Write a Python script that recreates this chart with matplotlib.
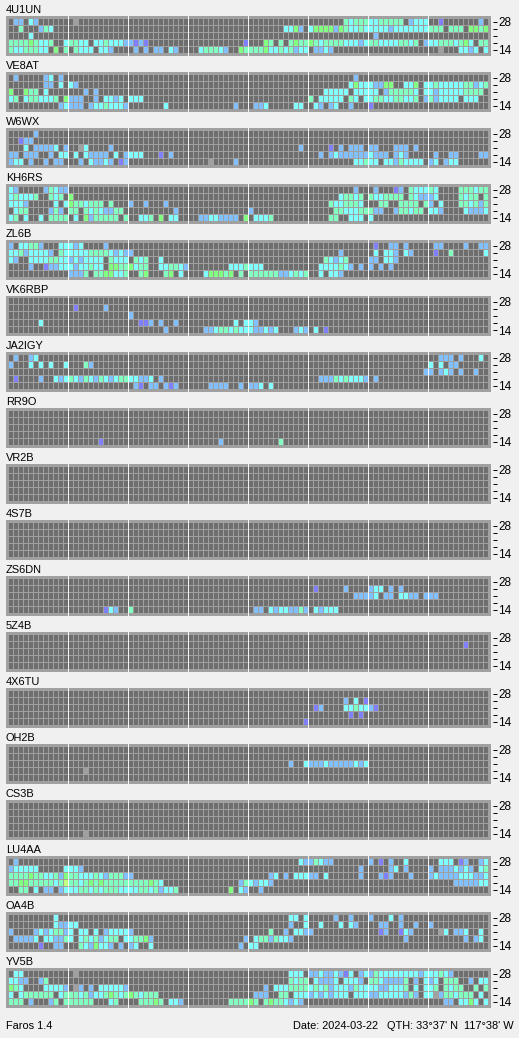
import matplotlib
matplotlib.use("Agg")
import matplotlib.pyplot as plt
import numpy as np
from matplotlib.colors import ListedColormap

plt.rcParams['font.family'] = ['Liberation Sans', 'DejaVu Sans']

STATIONS = ["4U1UN", "VE8AT", "W6WX", "KH6RS", "ZL6B", "VK6RBP", "JA2IGY", "RR9O", "VR2B",
            "4S7B", "ZS6DN", "5Z4B", "4X6TU", "OH2B", "CS3B", "LU4AA", "OA4B", "YV5B"]
BAND_LABELS = ["28", "", "", "", "14"]
FOOTER_LEFT = "Faros 1.4"
FOOTER_DATE = "Date: 2024-03-22"
FOOTER_QTH = "QTH: 33°37' N  117°38' W"

# '.' no signal, '#' gray, v violet, b blue, c cyan, a aquamarine, g green, y yellow-green
# each row: 8 blocks of 12 slots, '_' = an empty block; rows top to bottom are 28 ... 14
EMPTY = ["_ _ _ _ _ _ _ _"] * 5
D_4U1UN = [
    ".bb.cb...... .#.......... _ _ _ .......acaaa ccaaaaa.bccc ..v.......b.",
    "..a...bac... _ _ _ .......ccgb. cggggbgaccac ccccbccccccc aaa.aaa.ggag",
    "....c....... _ _ _ _ _ .b.......... _",
    "aaaagacca..c aacc.ccacccb bvbv........ ...........v ...ga.a.agaa gacaaaacccbc aaccccaaca.b ccaaacagc.aa",
    "accaaacc.g.a .accc.ccb... .b.b.bb.cb.. ..caaacb..ga aaagccacabcc .bbcb....... _ ..#...ccbc.c",
]
D_VE8AT = [
    ".b.....bc.b. _ _ _ _ .........b.. _ _",
    ".......bb.c. cb.......... _ _ _ ........cgcc cbbgg..ccg.c cacccccaabca",
    "g..gaa.c.... ...b.b...... _ _ _ ...ccccc.ccc cc.baaaaac.c cbcccccaaaa.",
    "ca.caaccca.g bbb..b.ccbc. ccc......... _ _ a.ccccc.ac.c caaccaacca.b abcccc.ccc..",
    "..........bc bbb.bccacccb .......c.... .........b.. .bbc.....cc. .cb.bc..b... v........... _",
]
D_W6WX = [
    ".....b...... _ _ _ _ _ _ _",
    "..vbb....... _ _ _ _ _ _ _",
    "...c.bbbbc.b ..#c....b... _ _ ..........b. ....v.b.bbb. bb...bbb.b.. _",
    "bb.bbb..b.cc .c.cbbbb.c.b ccc...v.b... _ _ ..b.bcbbbbbb cbbb.bcb.... .b..bb....bb",
    "bcc.b..b.bb. ..b.cbbcb.vb _ ....#....b.. _ .........cca cc.ccbacccc. bc.bcc......",
]
D_KH6RS = [
    "cb.....bacbb _ _ _ _ .........b.. .b...vb.accc ac....aaacaa",
    "caccca..aca. g........... _ _ _ ......caaca. accaaaa.acbb bc....acaa.a",
    "cccb.....c.c gaacaaa.a... b..b...b.... _ _ ....accaaac. ..aa..aaaa.a b.c...aacaba",
    ".caa....bab. aa.acacbbaa. .........b.. _ b........... .....aacccaa abb..baacaa. ccb....cbbbc",
    "ca.c..c.aaaa .c.gbaaaaa.a ..cca.g.cc.. ..bbccbbbb.g .ccca....... ....aa..ccc. c........... _",
]
D_ZL6B = [
    "b.ccaab...cc cbc....b.... _ _ _ _ .v..bb.b.... .bb....b..bb",
    "ccabccccb.ac ccccaaaacbcb b........... _ _ ......b..... .c.ccb.cb... .v..a......c",
    "cb..ccccaacc bcbcccc.accc .aca..c..... _ _ ...acbca.... bb.ccb...... _",
    "....b..vbbcc cbccacc.ggaa gcaa..ccaacb ........ccca ccc......... ..ccccacb.b. b.b.b....... _",
    "_ bbba.aaggcca ..ag...ag.c. ...cgggag.a. aaaaaabbcaca ..c.ccb..... _ _",
]
D_VK6RBP = [
    "_ _ _ _ _ _ _ _",
    "_ .v.....b.... _ _ _ _ _ _",
    "_ _ b........... _ _ _ _ _",
    "......c..... _ ..vvb.b..b.. .........c.c cb.......... _ _ _",
    "_ _ .......b.... ...bbcaacacc cbbcbc...bcb .c.v........ _ _",
]
D_JA2IGY = [
    ".b..bc...... _ _ _ _ _ _ ..bbb.b...c.",
    "b...c.c.c..c ...ab....... _ _ _ _ _ c.c.bb......",
    "_ _ _ _ _ _ ...........b b.bcb.b..b..",
    ".v....b..cbc acbacbacbcaa ccbbc.b..... _ _ ..bbbacacccb .b.......... _",
    "_ _ .bv.bb.bvb.. ....bbbb..b. bbc.c....... _ _ _",
]
D_RR9O = [
    "_ _ _ _ _ _ _ _",
    "_ _ _ _ _ _ _ _",
    "_ _ _ _ _ _ _ _",
    "_ _ _ _ _ _ _ _",
    "_ ......v..... _ ......b..... ......a..... _ _ _",
]
D_ZS6DN = [
    "_ _ _ _ _ _ _ _",
    "_ _ _ _ _ .v.....b.... bcc.b.b..... _",
    "_ _ _ _ _ .........bbb bc.bb.ccbb.b bb..........",
    "_ _ _ _ _ _ _ _",
    "_ .......vcb.. a........... _ .bb.cbccbbab .cbccc...... _ _",
]
D_5Z4B = [
    "_ _ _ _ _ _ _ _",
    "_ _ _ _ _ _ _ .......v....",
    "_ _ _ _ _ _ _ _",
    "_ _ _ _ _ _ _ _",
    "_ _ _ _ _ _ _ _",
]
D_4X6TU = [
    "_ _ _ _ _ _ _ _",
    "_ _ _ _ _ .......b.c.v _ _",
    "_ _ _ _ _ .vb....ccacc bv.......... _",
    "_ _ _ _ _ ........v.v. _ _",
    "_ _ _ _ ...........v _ _ _",
]
D_OH2B = [
    "_ _ _ _ _ _ _ _",
    "_ _ _ _ _ _ _ _",
    "_ _ _ _ ........b..c bbbcbbbbbcbc _ _",
    "_ ...#........ _ _ _ _ _ _",
    "_ _ _ _ _ _ _ _",
]
D_CS3B = [
    "_ _ _ _ _ _ _ _",
    "_ _ _ _ _ _ _ _",
    "_ _ _ _ _ _ _ _",
    "_ _ _ _ _ _ _ _",
    "_ ...#........ _ _ _ _ _ _",
]
D_LU4AA = [
    ".b.......... _ _ _ ..........cb bacbb....... b.v.b..c.... ..ccc.vb..bc",
    "bccccc.....c ccb......... _ _ _ ..........b. ....bc.b.... b.bbbcbcb.ca",
    "aaaagaaccabg aacccacbaaab b........... _ ....bc.b.ccc bb.c......b. ..bvb...b... bcbbbbcccbbc",
    "aaggaaaaacay aacagagaaaaa aaaagac..... ..........ba cbccb....... _ _ .....bbbbbcc",
    "..aa.c.bb.bc ccaacacaaacc ccaacabcca.. ........g.cb ..b......... _ _ _",
]
D_OA4B = [
    ".........c.. _ _ _ ........cc.c .....b..b... b...c.b..... _",
    ".........cbb cc.......... _ _ ........b..c ..c...c.cb.. ..bb..b..b.. b...........",
    "b....bcbcaab c.cc.c.bcccc b........... _ ....a..b.ccb b........... ..vb..vcb... ..#c.bbc..c.",
    ".bbbbc.ccbba c.cacabcaa.c caagb....... ...........b .caabaccb... _ .......b.... .......b.bc.",
    "......v..bb. ..acbgccb.b. bc..c....... ..........b. cc.......... _ _ _",
]
D_YV5B = [
    ".cc......... .#.......... _ _ ........ccc. bbcbbcbvc.bc baccccccccbc ccacb.......",
    "ccbb..ba.... _ _ _ ........acaa .cbbbc.cccb. aacbbbba.b.c bc.aaa..b.cc",
    "gac....ccccb .#b.b.cccccb _ _ ...b.cccaaaa cacabcccbacc ccbbccca.c.c ca.acaa..a.a",
    "c.caaaaaa.ca aacabccagaca gacaaa...... _ .bbb..aa.ccc bcbcbccc.ccc bbcccccbab.c c#baacaaa.c.",
    "aaa.b...ba.a aaaaa...ca.. ..aaaga.ccb. ........aaaa ga.agaacbcb. _ _ ...bb.ccgc.c",
]
PANELS = [D_4U1UN, D_VE8AT, D_W6WX, D_KH6RS, D_ZL6B, D_VK6RBP, D_JA2IGY, D_RR9O, EMPTY,
          EMPTY, D_ZS6DN, D_5Z4B, D_4X6TU, D_OH2B, D_CS3B, D_LU4AA, D_OA4B, D_YV5B]

CODES = ".#vbcagy"
PALETTE = ['#6e6e6e', '#a0a0a0', '#8080ff', '#80c0ff', '#80ffff', '#80ffc0', '#80ff80', '#c0ff80',
           '#f4f4f4']
WHITE_IDX = 8
BG = '#f0f0f0'
W, H = 519, 1038
FS = 7.9
CMAP = ListedColormap(PALETTE)


def expand(row):
    out = ""
    tokens = row.split()
    if len(tokens) != 8:
        print("bad row", row)
    for t in tokens:
        if t != "_" and len(t) != 12:
            print("bad block", t)
        out += "." * 12 if t == "_" else t
    return out


fig = plt.figure(figsize=(W / 100, H / 100), dpi=100, facecolor=BG)
for k, (name, rows) in enumerate(zip(STATIONS, PANELS)):
    top = 16 + 56 * k
    ax = fig.add_axes([6 / W, 1 - (top + 40) / H, 485 / W, 40 / H])
    canvas = np.full((40, 485), CODES.index('#'))
    for r, row in enumerate(rows):
        for c, ch in enumerate(expand(row)):
            canvas[3 + 7 * r:9 + 7 * r, 3 + 5 * c:7 + 5 * c] = CODES.index(ch)
    for h in range(12, 96, 12):
        canvas[:, 2 + 5 * h] = WHITE_IDX
    ax.imshow(canvas, cmap=CMAP, vmin=-0.5, vmax=len(PALETTE) - 0.5,
              extent=(-0.4, 96.6, 38 / 7, -2 / 7), interpolation='none', aspect='auto',
              origin='upper')
    for sp in ax.spines.values():
        sp.set_visible(False)
    ax.spines['right'].set_position(('outward', 1.44))
    ax.set_xticks([])
    ax.yaxis.tick_right()
    ax.set_yticks([r + 4 / 7 for r in range(5)], BAND_LABELS)
    ax.tick_params(axis='y', length=2.88, width=0.72, pad=1.0, labelsize=8.5, color='black')
    ax.set_title(name, loc='left', pad=2.2, fontsize=FS, color='black')

fig.text(6 / W, 1 - 1029 / H, FOOTER_LEFT, fontsize=FS, va='baseline')
fig.text(293 / W, 1 - 1029 / H, FOOTER_DATE, fontsize=FS, va='baseline')
fig.text(387 / W, 1 - 1029 / H, FOOTER_QTH, fontsize=FS, va='baseline')
fig.savefig('out.png', dpi=100, facecolor=BG)
